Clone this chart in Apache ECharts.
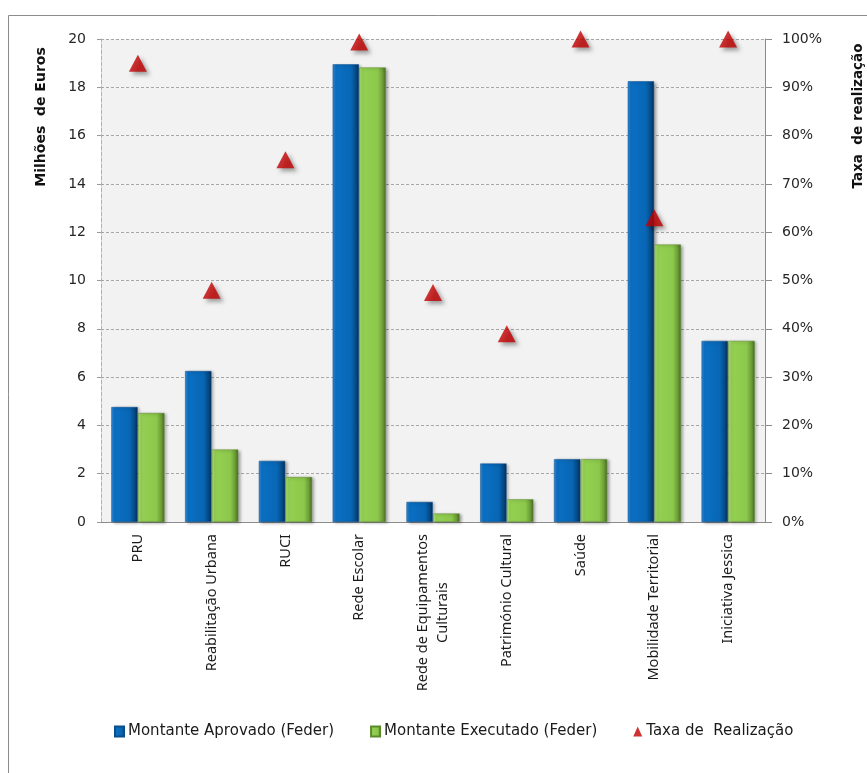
<!DOCTYPE html>
<html>
<head>
<meta charset="utf-8">
<script src="https://cdn.jsdelivr.net/npm/echarts@6/dist/echarts.min.js"></script>
<style>
  html, body { margin: 0; padding: 0; background: #fff; }
  #chart { width: 867px; height: 773px; }
</style>
</head>
<body>
<div id="chart"></div>
<script>
// FEDER programme areas
const categories = [
  'PRU',
  'Reabilitação Urbana',
  'RUCI',
  'Rede Escolar',
  'Rede de Equipamentos\nCulturais',
  'Património Cultural',
  'Saúde',
  'Mobilidade Territorial',
  'Iniciativa Jessica'
];
// Millions of euros
const montanteAprovado = [4.76, 6.25, 2.53, 18.95, 0.83, 2.42, 2.6, 18.25, 7.5];
const montanteExecutado = [4.51, 3.0, 1.86, 18.82, 0.35, 0.94, 2.6, 11.49, 7.5];
// Execution rate, percent
const taxaRealizacao = [95, 48, 75, 99.4, 47.5, 39, 100, 63, 100];

const seriesNames = ['Montante Aprovado (Feder)', 'Montante Executado (Feder)', 'Taxa de  Realização'];

const tickFont = { fontFamily: 'DejaVu Sans', fontSize: 14, color: '#262626' };
const catFont = { fontFamily: 'Noto Sans', fontSize: 14.5, color: '#1a1a1a' };

function hGrad(stops) {
  return new echarts.graphic.LinearGradient(0, 0, 1, 0,
    stops.map(s => ({ offset: s[0], color: s[1] })));
}

const chart = echarts.init(document.getElementById('chart'), null, { renderer: 'canvas' });

chart.setOption({
  backgroundColor: '#ffffff',
  animation: false,
  graphic: [
    {
      type: 'rect', silent: true, z: -10,
      shape: { x: 8.5, y: 15.5, width: 1000, height: 1000 },
      style: { fill: 'none', stroke: '#8c8c8c', lineWidth: 1 }
    },
    {
      type: 'text', x: 41, y: 117, rotation: Math.PI / 2,
      style: {
        text: 'Milhões  de Euros', fontFamily: 'DejaVu Sans', fontWeight: 'bold',
        fontSize: 14, fill: '#111', align: 'center', verticalAlign: 'middle'
      }
    },
    {
      type: 'text', x: 858, y: 116, rotation: Math.PI / 2,
      style: {
        text: 'Taxa  de realização', fontFamily: 'DejaVu Sans', fontWeight: 'bold',
        fontSize: 13.5, fill: '#111', align: 'center', verticalAlign: 'middle'
      }
    }
  ],
  grid: {
    left: 101, right: 102, top: 39, bottom: 251,
    show: true, backgroundColor: '#f2f2f2', borderWidth: 0
  },
  legend: {
    data: [
      { name: seriesNames[0], icon: 'rect' },
      { name: seriesNames[1], icon: 'rect' },
      { name: seriesNames[2], icon: 'triangle' }
    ],
    bottom: 29, left: 109,
    itemWidth: 9, itemHeight: 10, itemGap: 36,
    textStyle: { fontFamily: 'DejaVu Sans', fontSize: 15, color: '#1a1a1a', padding: [0, 0, 0, -1] }
  },
  xAxis: {
    type: 'category',
    data: categories,
    axisLine: { show: true, lineStyle: { color: '#8c8c8c', width: 1 } },
    axisTick: { show: false },
    axisLabel: Object.assign({
      rotate: 90, margin: 12, interval: 0,
      align: 'right', lineHeight: 20,
      formatter: v => v.indexOf('\n') >= 0
        ? v.split('\n').map(s => '{c|' + s + '}').join('\n')
        : v,
      rich: { c: Object.assign({ align: 'center', lineHeight: 20 }, catFont) }
    }, catFont)
  },
  yAxis: [
    {
      type: 'value', min: 0, max: 20, interval: 2,
      axisLine: { show: true, lineStyle: { color: '#b0b0b0', type: 'dashed' } },
      axisTick: { show: true, length: 6, lineStyle: { color: '#9a9a9a', type: 'dashed' } },
      axisLabel: Object.assign({ margin: 15 }, tickFont),
      splitLine: { show: true, lineStyle: { color: '#a6a6a6', type: [3, 2], width: 1 } }
    },
    {
      type: 'value', min: 0, max: 100, interval: 10,
      axisLine: { show: true, lineStyle: { color: '#8c8c8c' } },
      axisTick: { show: true, length: 7, lineStyle: { color: '#8c8c8c' } },
      axisLabel: Object.assign({ margin: 17, formatter: '{value}%' }, tickFont),
      splitLine: { show: false }
    }
  ],
  series: [
    {
      name: seriesNames[0],
      type: 'bar',
      data: montanteAprovado,
      barGap: '2%',
      barCategoryGap: '28%',
      itemStyle: {
        color: hGrad([[0, '#3a8ad6'], [0.12, '#0b70c4'], [0.7, '#0866b4'], [0.88, '#054a86'], [1, '#032f57']]),
        borderColor: '#0a4f8c', borderWidth: 0.5,
        shadowColor: 'rgba(0,0,0,0.35)', shadowBlur: 3, shadowOffsetX: 2, shadowOffsetY: 1
      }
    },
    {
      name: seriesNames[1],
      type: 'bar',
      data: montanteExecutado,
      itemStyle: {
        color: hGrad([[0, '#b2e27e'], [0.12, '#94d152'], [0.7, '#8cc84b'], [0.88, '#6c9c37'], [1, '#466b21']]),
        borderColor: '#5b8a2c', borderWidth: 0.5,
        shadowColor: 'rgba(0,0,0,0.35)', shadowBlur: 3, shadowOffsetX: 2, shadowOffsetY: 1
      }
    },
    {
      name: seriesNames[2],
      type: 'scatter',
      yAxisIndex: 1,
      data: taxaRealizacao,
      symbol: 'triangle',
      symbolSize: [18, 17],
      z: 5,
      itemStyle: {
        color: '#c00000',
        shadowColor: 'rgba(0,0,0,0.45)', shadowBlur: 4, shadowOffsetX: 3, shadowOffsetY: 3
      }
    }
  ]
});
</script>
</body>
</html>
